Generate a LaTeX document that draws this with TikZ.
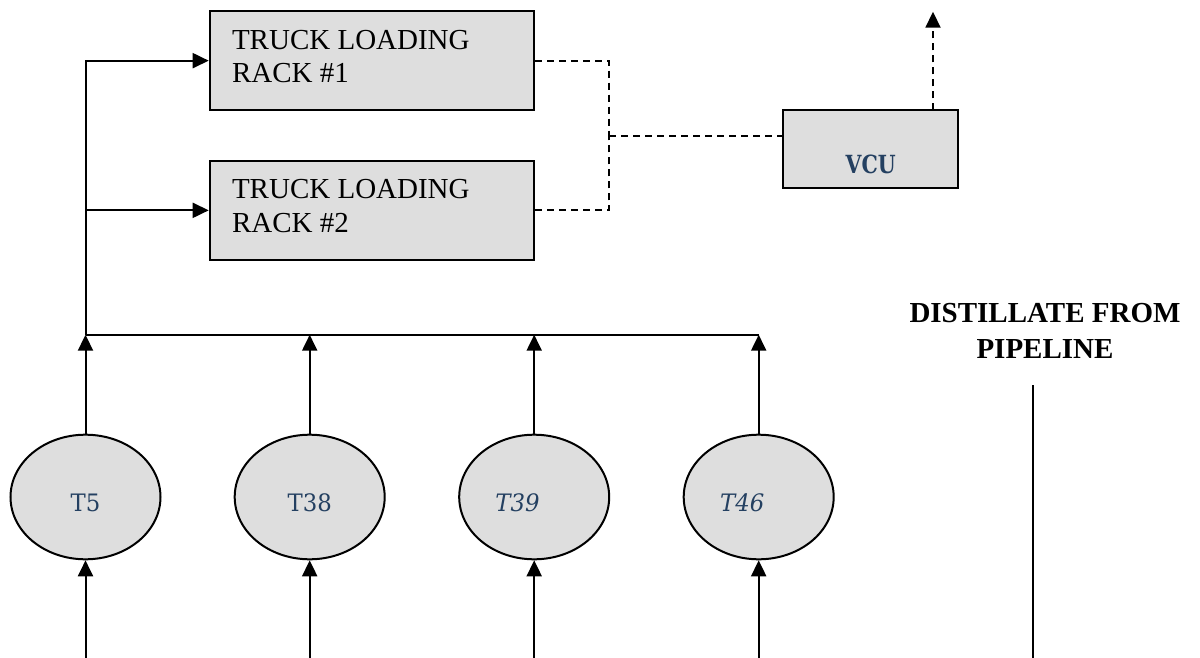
\documentclass[tikz,border=0pt]{standalone}
\usepackage{fontspec}
\setmainfont{Liberation Serif}
\newfontfamily\camfont[FakeStretch=0.95]{DejaVu Serif}
\newfontfamily\cambfont[FakeStretch=0.82]{DejaVu Serif}
\usetikzlibrary{arrows.meta,shapes.geometric}
\definecolor{boxgray}{RGB}{222,222,222}
\definecolor{labblue}{RGB}{36,64,97}
\begin{document}
\begin{tikzpicture}[x=1pt,y=-1pt,
  line width=2pt,
  boxstyle/.style={draw=black,fill=boxgray,rectangle,inner sep=0pt,line width=2pt},
  tank/.style={draw=black,fill=boxgray,ellipse,inner sep=0pt,minimum width=150pt,minimum height=124.6pt,line width=2pt},
  arr/.style={-{Triangle[length=16pt,width=15pt]}},
  dsh/.style={dash pattern=on 7pt off 5pt,line width=1.8pt},
  racktxt/.style={anchor=north west,align=left,inner sep=0pt,font=\fontsize{29}{33.4}\selectfont},
  tanktxt/.style={anchor=base,inner sep=0pt,text=labblue,font=\camfont\fontsize{24}{28}\selectfont},
]
\useasboundingbox (0,0) rectangle (1200,658);

% truck loading racks
\node[boxstyle,minimum width=324.6pt,minimum height=99.3pt] (rack1) at (372,60.65) {};
\node[boxstyle,minimum width=324.6pt,minimum height=99.3pt] (rack2) at (372,210.35) {};
\node[racktxt] (rack1t) at (231,28.9) {TRUCK LOADING\\RACK \#1};
\node[racktxt] (rack2t) at (231,178.6) {TRUCK LOADING\\RACK \#2};

% VCU
\node[boxstyle,minimum width=175.3pt,minimum height=77.4pt] (vcu) at (870.65,149) {};
\node[anchor=base,inner sep=0pt,text=labblue,font=\cambfont\bfseries\fontsize{25}{30}\selectfont] (vcut) at (870.7,174) {VCU};

% tanks
\node[tank] (e5) at (85.5,497) {};
\node[tank] (e38) at (309.7,497) {};
\node[tank] (e39) at (534.2,497) {};
\node[tank] (e46) at (758.7,497) {};
\node[tanktxt] (e5t) at (85.5,511.7) {T5};
\node[tanktxt] (e38t) at (309.7,511.7) {T38};
\node[tanktxt] (e39t) at (517.5,511.7) {\itshape T39};
\node[tanktxt] (e46t) at (742.3,511.7) {\itshape T46};

% distillate
\node[anchor=north,align=center,inner sep=0pt,font=\bfseries\fontsize{29}{35.6}\selectfont] (dist) at (1045,302.5) {DISTILLATE FROM\\PIPELINE};
\coordinate (dtop) at (1032.7,385);
\coordinate (dbot) at (1032.7,658);
\draw (dtop) -- (dbot);

% helper coordinates
\coordinate (bus) at (0,334.7);
\coordinate (j0) at (85.5,334.7);
\coordinate (dj) at (609.3,135.7);
\coordinate (vtop) at (933,11.7);
\coordinate (vbase) at (933,110.3);
\coordinate (b5) at (85.5,658);
\coordinate (b38) at (309.7,658);
\coordinate (b39) at (534.2,658);
\coordinate (b46) at (758.7,658);

% bus and feeds to racks
\draw (j0) -- (e46.north |- bus);
\draw[arr] (j0) |- (rack1.west);
\draw[arr] (j0 |- rack2.west) -- (rack2.west);

% tank outputs
\draw[arr] (e5.north) -- (e5.north |- bus);
\draw[arr] (e38.north) -- (e38.north |- bus);
\draw[arr] (e39.north) -- (e39.north |- bus);
\draw[arr] (e46.north) -- (e46.north |- bus);

% tank inputs
\draw[arr] (b5) -- (e5.south);
\draw[arr] (b38) -- (e38.south);
\draw[arr] (b39) -- (e39.south);
\draw[arr] (b46) -- (e46.south);

% vapour lines
\draw[dsh] (rack1.east) -| (dj);
\draw[dsh] (rack2.east) -| (dj);
\draw[dsh] (dj) -- (dj -| vcu.west);
\draw[dsh,arr] (vbase) -- (vtop);
\end{tikzpicture}
\end{document}
